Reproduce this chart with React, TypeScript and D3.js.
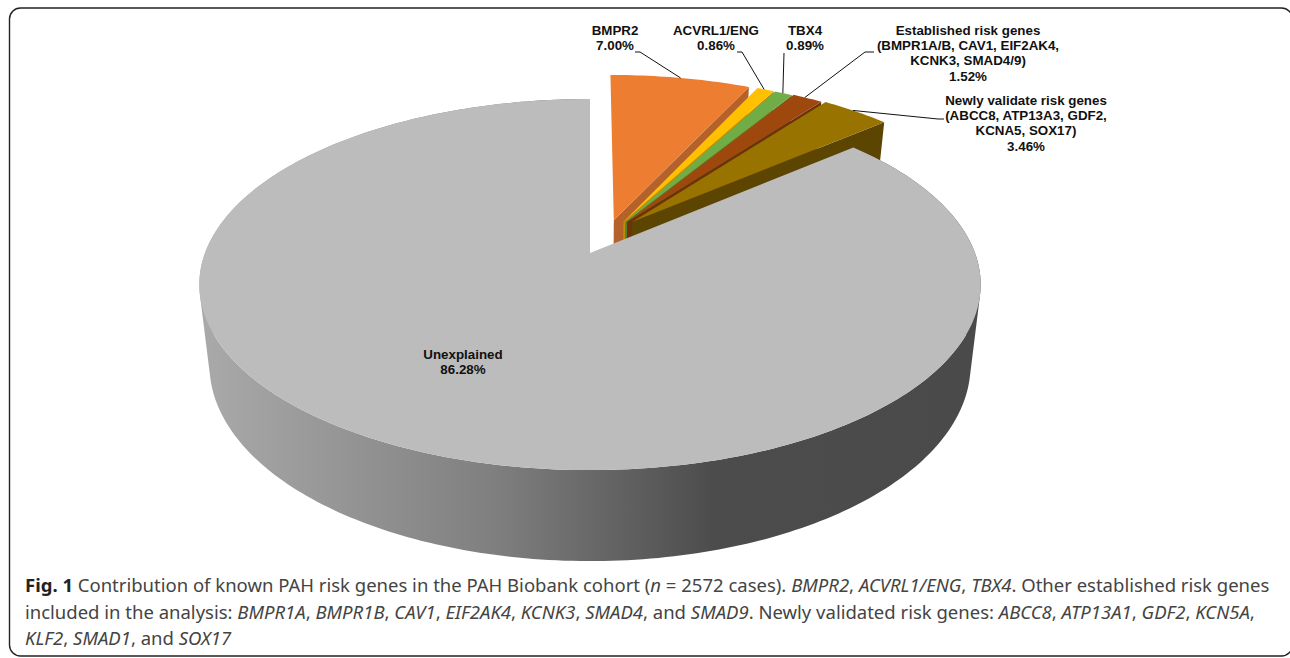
import React from "react";
import * as d3 from "d3";

// Share of the cohort explained by each gene group, in percent.
const groupNames = ["BMPR2", "ACVRL1/ENG", "TBX4", "Established", "Newly validated", "Unexplained"];
const groupShares = [7.0, 0.86, 0.89, 1.52, 3.46, 86.28];
const topColors = ["#ED7D31", "#FFC000", "#70AD47", "#9E480E", "#997300", "#BCBCBC"];
const wallColors = ["#B5622A", "#BF9000", "#548235", "#6E320A", "#5C4500", "#9A9A9A"];

const labelLines = [
  ["BMPR2", "7.00%"],
  ["ACVRL1/ENG", "0.86%"],
  ["TBX4", "0.89%"],
  ["Established risk genes", "(BMPR1A/B, CAV1, EIF2AK4,", "KCNK3, SMAD4/9)", "1.52%"],
  ["Newly validate risk genes", "(ABCC8, ATP13A3, GDF2,", "KCNA5, SOX17)", "3.46%"],
  ["Unexplained", "86.28%"],
];
const labelCenters: [number, number][] = [
  [615, 34.5], [716, 34.5], [805, 34.5], [968, 34.5], [1026, 104.5], [463, 358.5],
];

// Explode distance and direction (degrees clockwise from the top) per slice, in disc units.
const explodeDirs = [18.8, 26.6, 28, 29, 32.3, 0];
const explodeDist = [0.198, 0.2, 0.2, 0.205, 0.21, 0];

// Leader lines: elbow beside the label, then a knee, then a point on the slice rim.
const leaderStart: ([number, number] | null)[] = [[635, 52], [737, 52], null, [874, 52], [944, 119], null];
const leaderKnee: ([number, number] | null)[] = [[640, 52], [742, 52], [784, 53], [865, 52], [938, 119], null];
const leaderRimFrac = [0.5, 0.4, 0.45, 0.4, 0.45, 0];

// Perspective of the two disc planes: top face and bottom face.
const CX = 590;
const topPlane = { k: 385, a: 137.2, b: 253, c: -0.17 };
const bottomPlane = { k: 375, a: 134, b: 331.7, c: -0.17 };
type Plane = typeof topPlane;

const project = (p: Plane, u: number, v: number): [number, number] => {
  const w = 1 + p.c * v;
  return [CX + (p.k * u) / w, (p.a * v + p.b) / w];
};

const pieLayout = d3.pie<number>().sort(null).startAngle(0).endAngle(2 * Math.PI);
const arcs = pieLayout(groupShares);
const line = d3.line();

function offsetOf(i: number): [number, number] {
  const t = (explodeDirs[i] * Math.PI) / 180;
  return [explodeDist[i] * Math.sin(t), -explodeDist[i] * Math.cos(t)];
}

function rimPoints(p: Plane, i: number): [number, number][] {
  const { startAngle, endAngle } = arcs[i];
  const [ox, oy] = offsetOf(i);
  const n = Math.max(4, Math.ceil(((endAngle - startAngle) * 180) / Math.PI));
  return d3.range(n + 1).map((j) => {
    const t = startAngle + ((endAngle - startAngle) * j) / n;
    return project(p, ox + Math.sin(t), oy - Math.cos(t));
  });
}

function topFace(i: number): string {
  const [ox, oy] = offsetOf(i);
  return line([project(topPlane, ox, oy), ...rimPoints(topPlane, i)])! + "Z";
}

// Cut wall on the clockwise side of a slice.
function cutWall(i: number): string {
  const [ox, oy] = offsetOf(i);
  const t = rimPoints(topPlane, i);
  const b = rimPoints(bottomPlane, i);
  return (
    line([
      project(topPlane, ox, oy),
      t[t.length - 1],
      b[b.length - 1],
      project(bottomPlane, ox, oy),
    ])! + "Z"
  );
}

// Outer curved wall as one path of consistently wound quads, so the straight
// silhouette between the two rims is filled.
function outerWall(i: number): string {
  const t = rimPoints(topPlane, i);
  const b = rimPoints(bottomPlane, i);
  return d3
    .range(t.length - 1)
    .map((j) => {
      const quad: [number, number][] = [t[j], t[j + 1], b[j + 1], b[j]];
      if (d3.polygonArea(quad) < 0) quad.reverse();
      return line(quad)! + "Z";
    })
    .join("");
}

function rimAt(i: number, frac: number): [number, number] {
  const { startAngle, endAngle } = arcs[i];
  const [ox, oy] = offsetOf(i);
  const t = startAngle + (endAngle - startAngle) * frac;
  return project(topPlane, ox + Math.sin(t), oy - Math.cos(t));
}

const LABEL_FONT = "'Liberation Sans', Arial, sans-serif";
const CAPTION_FONT = "'Noto Sans', sans-serif";
const LINE_GAP = 15.4;

const order = d3.range(groupNames.length);
const unexplained = groupNames.length - 1;

export default function App() {
  return (
    <svg
      width={1290}
      height={658}
      viewBox="0 0 1290 658"
      style={{ position: "absolute", left: 0, top: 0, display: "block", background: "#fff" }}
    >
      <defs>
        <linearGradient id="wallShade" gradientUnits="userSpaceOnUse" x1={198} x2={980} y1={0} y2={0}>
          <stop offset="0" stopColor="#AAAAAA" />
          <stop offset="0.38" stopColor="#7F7F7F" />
          <stop offset="0.66" stopColor="#4C4C4C" />
          <stop offset="1" stopColor="#4A4A4A" />
        </linearGradient>
      </defs>

      <rect x={9.5} y={8} width={1283} height={648} rx={11} fill="none" stroke="#222" strokeWidth={1.4} />

      {order.map((i) =>
        i === unexplained ? (
          <g key={groupNames[i]}>
            <path d={outerWall(i)} fill="url(#wallShade)" />
            <path d={topFace(i)} fill={topColors[i]} />
          </g>
        ) : (
          <g key={groupNames[i]}>
            <path d={cutWall(i)} fill={wallColors[i]} />
            <path d={topFace(i)} fill={topColors[i]} />
          </g>
        )
      )}

      {order.map((i) => {
        const knee = leaderKnee[i];
        if (!knee) return null;
        const start = leaderStart[i];
        const pts: [number, number][] = [...(start ? [start] : []), knee, rimAt(i, leaderRimFrac[i])];
        return <path key={i} d={line(pts)!} fill="none" stroke="#111" strokeWidth={1} />;
      })}

      {labelLines.map((lines, i) => (
        <text
          key={i}
          x={labelCenters[i][0]}
          y={labelCenters[i][1]}
          textAnchor="middle"
          fontFamily={LABEL_FONT}
          fontWeight="bold"
          fontSize={13.35}
          fill="#111"
        >
          {lines.map((l, j) => (
            <tspan key={j} x={labelCenters[i][0]} y={labelCenters[i][1] + j * LINE_GAP}>
              {l}
            </tspan>
          ))}
        </text>
      ))}

      <g fontFamily={CAPTION_FONT} fontSize={18.5} fill="#444">
        <text x={25} y={592}>
          <tspan fontWeight="bold" fill="#222">Fig. 1</tspan> Contribution of known PAH risk genes in the PAH Biobank cohort (<tspan fontStyle="italic">n</tspan> = 2572 cases). <tspan fontStyle="italic">BMPR2</tspan>, <tspan fontStyle="italic">ACVRL1/ENG</tspan>, <tspan fontStyle="italic">TBX4</tspan>. Other established risk genes
        </text>
        <text x={25} y={619}>
          included in the analysis: <tspan fontStyle="italic">BMPR1A</tspan>, <tspan fontStyle="italic">BMPR1B</tspan>, <tspan fontStyle="italic">CAV1</tspan>, <tspan fontStyle="italic">EIF2AK4</tspan>, <tspan fontStyle="italic">KCNK3</tspan>, <tspan fontStyle="italic">SMAD4</tspan>, and <tspan fontStyle="italic">SMAD9</tspan>. Newly validated risk genes: <tspan fontStyle="italic">ABCC8</tspan>, <tspan fontStyle="italic">ATP13A1</tspan>, <tspan fontStyle="italic">GDF2</tspan>, <tspan fontStyle="italic">KCN5A</tspan>,
        </text>
        <text x={25} y={645}>
          <tspan fontStyle="italic">KLF2</tspan>, <tspan fontStyle="italic">SMAD1</tspan>, and <tspan fontStyle="italic">SOX17</tspan>
        </text>
      </g>
    </svg>
  );
}
